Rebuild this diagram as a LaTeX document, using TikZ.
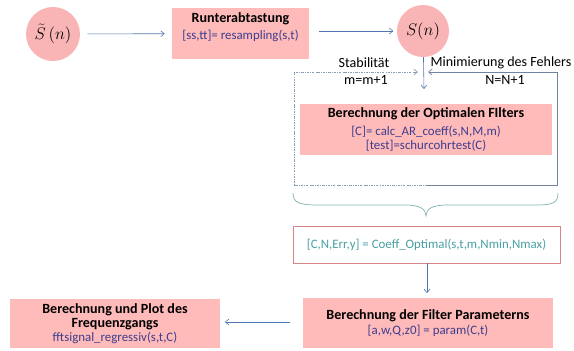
\documentclass[tikz,border=0pt]{standalone}
\usepackage{fontspec}
\setmainfont{Carlito}
\usepackage{xcolor}
\usetikzlibrary{arrows.meta,positioning}

\definecolor{boxpink}{RGB}{255,186,186}
\definecolor{circpink}{RGB}{249,181,181}
\definecolor{codeblue}{RGB}{62,62,140}
\definecolor{codeteal}{RGB}{72,160,165}
\definecolor{arrowblue}{RGB}{79,119,179}
\definecolor{loopgray}{RGB}{112,132,162}
\definecolor{bracegray}{RGB}{132,176,176}
\definecolor{edgered}{RGB}{214,134,134}

\newcommand\diafont{\fontsize{11}{12}\selectfont}
\newcommand\titfont{\fontsize{12}{13}\selectfont\bfseries}

\tikzset{
  pinkbox/.style={fill=boxpink, draw=none, inner sep=1pt, align=center, font=\diafont},
  sigcirc/.style={circle, fill=circpink, inner sep=0pt, font=\fontsize{14}{16}\selectfont},
  flow/.style={-{Straight Barb[length=3pt,width=5pt]}, arrowblue, line width=0.5pt},
  looplabel/.style={font=\fontsize{12}{13}\selectfont, inner sep=0pt}
}

\begin{document}
\begin{tikzpicture}[x=0.03cm, y=-0.03cm]
  % frame of the picture
  \useasboundingbox (0,0) rectangle (574,350);

  % input signal and resampling
  \node[sigcirc, minimum size=1.62cm] (sig1) at (53,34) {$\widetilde{S}\,(n)$};
  \node[pinkbox, minimum width=4.11cm, minimum height=1.53cm] (runter) at (240.5,33.5) {};
  \node[below=1pt of runter.north, align=center, font=\diafont] (runtertxt)
    {{\titfont Runterabtastung}\\[2pt]\textcolor{codeblue}{[ss,tt]= resampling(s,t)}};
  \node[sigcirc, minimum size=1.56cm] (sig2) at (423,31) {$S(n)$};

  \draw[flow, shorten <=6pt, shorten >=6pt] (sig1) -- (runter);
  \draw[flow, shorten <=8pt, shorten >=3pt] (runter.east |- sig2) -- (sig2);

  % loop around the filter calculation
  \coordinate (vend) at (424,89);
  \coordinate (lin) at (418,72);
  \coordinate (rin) at (428,72);
  \coordinate (lbot) at (294,185);
  \coordinate (rbot) at (557,185);
  \coordinate (mbot) at (427,185);
  \draw[flow] (sig2) -- (vend);
  \draw[-{Straight Barb[length=3pt,width=5pt]}, loopgray!80, line width=0.6pt,
        dash pattern=on 2pt off 1pt on 0.6pt off 1pt]
    (mbot) -- (lbot) -- (lbot |- lin) -- (lin);
  \draw[-{Straight Barb[length=3pt,width=5pt]}, loopgray, line width=0.6pt]
    (mbot) -- (rbot) -- (rbot |- rin) -- (rin);

  \node[looplabel] (stab) at (364,63) {Stabilität};
  \node[looplabel] (mm) at (366,80) {m=m+1};
  \node[looplabel] (minim) at (501,63) {Minimierung des Fehlers};
  \node[looplabel] (nn) at (505,80) {N=N+1};

  \node[pinkbox, minimum width=7.56cm, minimum height=1.53cm] (optfilt) at (426,129.5)
    {{\titfont Berechnung der Optimalen FIlters}\\[3pt]
     \textcolor{codeblue}{[C]= calc\_AR\_coeff(s,N,M,m)}\\
     \textcolor{codeblue}{[test]=schurcohrtest(C)}};

  % brace under the loop
  \draw[bracegray, line width=0.6pt]
    (293,193) .. controls (293,203) and (300,205) .. (318,205) -- (405,205)
    .. controls (420,205) and (426,209) .. (426,216)
    .. controls (426,209) and (432,205) .. (447,205) -- (535,205)
    .. controls (553,205) and (558,203) .. (558,193);

  % optimal coefficients
  \node[draw=edgered, fill=white, line width=0.7pt, minimum width=8.01cm, minimum height=1.11cm,
        font=\diafont, text=codeteal] (coeff) at (426.5,244.5)
    {[C,N,Err,y] = Coeff\_Optimal(s,t,m,Nmin,Nmax)};

  \node[pinkbox, minimum width=7.5cm, minimum height=1.5cm] (param) at (428,323)
    {{\titfont Berechnung der Filter Parameterns}\\[1pt]
     \textcolor{codeblue}{[a,w,Q,z0] = param(C,t)}};

  \node[pinkbox, minimum width=6.3cm, minimum height=1.47cm] (freq) at (115,323.5)
    {{\titfont Berechnung und Plot des}\\{\titfont Frequenzgangs}\\
     \textcolor{codeblue}{fftsignal\_regressiv(s,t,C)}};

  \draw[flow, shorten >=4pt] (coeff.south -| mbot) -- (param.north -| mbot);
  \draw[flow, shorten <=11pt, shorten >=4pt] (param.west |- 0,322) -- (freq.east |- 0,322);
\end{tikzpicture}
\end{document}
